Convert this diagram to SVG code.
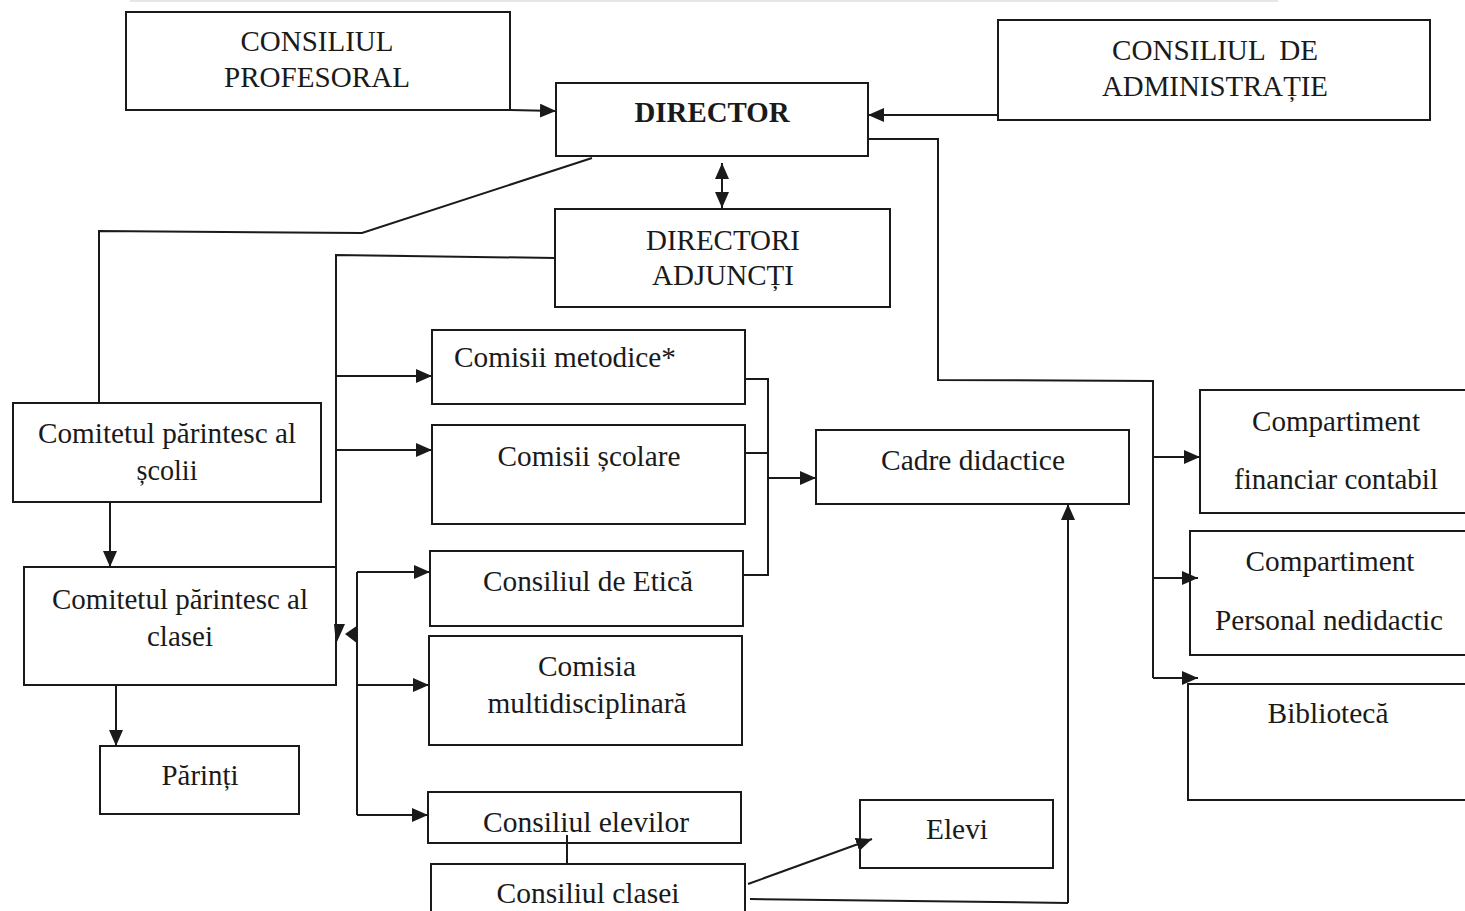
<svg xmlns="http://www.w3.org/2000/svg" width="1465" height="911" viewBox="0 0 1465 911">
<style>
  .box { fill: #ffffff; stroke: #1a1a1a; stroke-width: 2; }
  .lbl { font-family: "Liberation Serif", "Times New Roman", serif; font-size: 30px; fill: #1a1a1a; text-anchor: middle; }
  .bold { font-weight: bold; }
  .con { fill: none; stroke: #1a1a1a; stroke-width: 2; }
  .arr { marker-end: url(#ah); }
</style>
<defs>
  <marker id="ah" viewBox="0 0 16 14" refX="16" refY="7" markerWidth="16" markerHeight="14" markerUnits="userSpaceOnUse" orient="auto-start-reverse">
    <path d="M0,0 L16,7 L0,14 z" fill="#1a1a1a"/>
  </marker>
</defs>
<rect width="1465" height="911" fill="#ffffff"/>
<line x1="130" y1="1" x2="1278" y2="1" stroke="#e6e6e6" stroke-width="2"/>

<g id="consiliul-profesoral">
  <rect class="box" x="126" y="12" width="384" height="98"/>
  <text class="lbl" x="317" y="51" textLength="153" lengthAdjust="spacingAndGlyphs">CONSILIUL</text>
  <text class="lbl" x="317" y="87" textLength="186" lengthAdjust="spacingAndGlyphs">PROFESORAL</text>
</g>
<g id="director">
  <rect class="box" x="556" y="83" width="312" height="73"/>
  <text class="lbl bold" x="712" y="122" textLength="155" lengthAdjust="spacingAndGlyphs">DIRECTOR</text>
</g>
<g id="consiliul-administratie">
  <rect class="box" x="998" y="20" width="432" height="100"/>
  <text class="lbl" x="1215" y="60" textLength="206" lengthAdjust="spacingAndGlyphs" xml:space="preserve">CONSILIUL  DE</text>
  <text class="lbl" x="1215" y="96" textLength="226" lengthAdjust="spacingAndGlyphs">ADMINISTRAȚIE</text>
</g>
<g id="directori-adjuncti">
  <rect class="box" x="555" y="209" width="335" height="98"/>
  <text class="lbl" x="723" y="250" textLength="154" lengthAdjust="spacingAndGlyphs">DIRECTORI</text>
  <text class="lbl" x="723" y="285" textLength="142" lengthAdjust="spacingAndGlyphs">ADJUNCȚI</text>
</g>
<g id="comisii-metodice">
  <rect class="box" x="432" y="330" width="313" height="74"/>
  <text class="lbl" x="565" y="367" textLength="222" lengthAdjust="spacingAndGlyphs">Comisii metodice*</text>
</g>
<g id="comisii-scolare">
  <rect class="box" x="432" y="425" width="313" height="99"/>
  <text class="lbl" x="589" y="466" textLength="183" lengthAdjust="spacingAndGlyphs">Comisii școlare</text>
</g>
<g id="cadre-didactice">
  <rect class="box" x="816" y="430" width="313" height="74"/>
  <text class="lbl" x="973" y="470" textLength="184" lengthAdjust="spacingAndGlyphs">Cadre didactice</text>
</g>
<g id="comitetul-scolii">
  <rect class="box" x="13" y="403" width="308" height="99"/>
  <text class="lbl" x="167" y="443" textLength="258" lengthAdjust="spacingAndGlyphs">Comitetul părintesc al</text>
  <text class="lbl" x="167" y="480" textLength="61" lengthAdjust="spacingAndGlyphs">școlii</text>
</g>
<g id="comitetul-clasei">
  <rect class="box" x="24" y="567" width="312" height="118"/>
  <text class="lbl" x="180" y="609" textLength="256" lengthAdjust="spacingAndGlyphs">Comitetul părintesc al</text>
  <text class="lbl" x="180" y="646" textLength="66" lengthAdjust="spacingAndGlyphs">clasei</text>
</g>
<g id="consiliul-etica">
  <rect class="box" x="430" y="551" width="313" height="75"/>
  <text class="lbl" x="588" y="591" textLength="210" lengthAdjust="spacingAndGlyphs">Consiliul de Etică</text>
</g>
<g id="comisia-multidisciplinara">
  <rect class="box" x="429" y="636" width="313" height="109"/>
  <text class="lbl" x="587" y="676" textLength="98" lengthAdjust="spacingAndGlyphs">Comisia</text>
  <text class="lbl" x="587" y="713" textLength="199" lengthAdjust="spacingAndGlyphs">multidisciplinară</text>
</g>
<g id="parinti">
  <rect class="box" x="100" y="746" width="199" height="68"/>
  <text class="lbl" x="200" y="785" textLength="77" lengthAdjust="spacingAndGlyphs">Părinți</text>
</g>
<g id="consiliul-elevilor">
  <rect class="box" x="428" y="792" width="313" height="51"/>
  <text class="lbl" x="586" y="832" textLength="206" lengthAdjust="spacingAndGlyphs">Consiliul elevilor</text>
</g>
<g id="consiliul-clasei">
  <rect class="box" x="431" y="864" width="314" height="60"/>
  <text class="lbl" x="588" y="903" textLength="183" lengthAdjust="spacingAndGlyphs">Consiliul clasei</text>
</g>
<g id="elevi">
  <rect class="box" x="860" y="800" width="193" height="68"/>
  <text class="lbl" x="957" y="839" textLength="62" lengthAdjust="spacingAndGlyphs">Elevi</text>
</g>
<g id="compartiment-financiar">
  <rect class="box" x="1200" y="390" width="275" height="123"/>
  <text class="lbl" x="1336" y="431" textLength="168" lengthAdjust="spacingAndGlyphs">Compartiment</text>
  <text class="lbl" x="1336" y="489" textLength="204" lengthAdjust="spacingAndGlyphs">financiar contabil</text>
</g>
<g id="compartiment-personal">
  <rect class="box" x="1190" y="531" width="285" height="124"/>
  <text class="lbl" x="1330" y="571" textLength="169" lengthAdjust="spacingAndGlyphs">Compartiment</text>
  <text class="lbl" x="1329" y="630" textLength="228" lengthAdjust="spacingAndGlyphs">Personal nedidactic</text>
</g>
<g id="biblioteca">
  <rect class="box" x="1188" y="684" width="287" height="116"/>
  <text class="lbl" x="1328" y="723" textLength="121" lengthAdjust="spacingAndGlyphs">Bibliotecă</text>
</g>

<g id="connectors">
  <path class="con arr" d="M510,110 L556,111"/>
  <path class="con arr" d="M998,115 L868,115"/>
  <path class="con arr" d="M722,163 L722,208" marker-start="url(#ah)"/>
  <path class="con" d="M868,139 L938,139 L938,380 L1153,381 L1153,678"/>
  <path class="con arr" d="M1153,457 L1200,457"/>
  <path class="con arr" d="M1153,578 L1198,578"/>
  <path class="con arr" d="M1153,678 L1198,678"/>
  <path class="con" d="M592,158 L362,233 L99,231 L99,403"/>
  <path class="con" d="M555,258 L336,255 L336,567"/>
  <path class="con arr" d="M336,376 L432,376"/>
  <path class="con arr" d="M336,450 L432,450"/>
  <polygon points="334,624 345,624 336,644" fill="#1a1a1a"/>
  <path class="con" d="M357,572 L357,815"/>
  <path class="con arr" d="M357,572 L430,572"/>
  <path class="con arr" d="M357,685 L429,685"/>
  <path class="con arr" d="M357,815 L428,815"/>
  <polygon points="345,634 358,625 358,644" fill="#1a1a1a"/>
  <path class="con" d="M745,379 L768,379 L768,575 L743,575"/>
  <path class="con" d="M745,453 L768,453"/>
  <path class="con arr" d="M768,478 L816,478"/>
  <path class="con arr" d="M110,502 L110,567"/>
  <path class="con arr" d="M116,685 L116,746"/>
  <path class="con" d="M567,835 L567,864"/>
  <path class="con arr" d="M748,884 L872,839"/>
  <path class="con" d="M750,899 L1068,903"/>
  <path class="con arr" d="M1068,903 L1068,504"/>
</g>
</svg>
